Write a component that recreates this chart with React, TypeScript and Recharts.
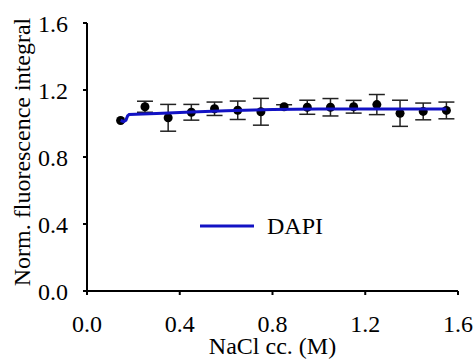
import React from "react";
import {
  ComposedChart,
  Scatter,
  XAxis,
  YAxis,
  ErrorBar,
  Legend,
  Label,
} from "recharts";

// measured points (NaCl concentration, normalised integral, error)
const naclConc = [0.145, 0.25, 0.35, 0.45, 0.55, 0.65, 0.75, 0.85, 0.95, 1.05, 1.15, 1.25, 1.35, 1.45, 1.55];
const fluorValues = [1.018, 1.1, 1.034, 1.067, 1.088, 1.079, 1.07, 1.1, 1.097, 1.097, 1.1, 1.113, 1.061, 1.072, 1.078];
const fluorErrors = [0, 0.033, 0.08, 0.047, 0.04, 0.055, 0.08, 0.012, 0.042, 0.052, 0.038, 0.06, 0.078, 0.05, 0.05];

// fitted DAPI curve
const fitConc = [0.145, 0.158, 0.168, 0.175, 0.182, 0.3, 0.45, 0.6, 0.8, 1.0, 1.2, 1.4, 1.55];
const fitValues = [1.018, 1.012, 1.02, 1.045, 1.054, 1.06, 1.068, 1.076, 1.083, 1.086, 1.087, 1.087, 1.087];

const xTicks = [0, 0.4, 0.8, 1.2, 1.6];
const yTicks = [0, 0.4, 0.8, 1.2, 1.6];

const FONT = "'Liberation Serif', 'Times New Roman', serif";
const BLUE = "#1212c4";

const points = naclConc.map((x, i) => ({ x, y: fluorValues[i], err: fluorErrors[i] }));
const fit = fitConc.map((x, i) => ({ x, y: fitValues[i] }));

const tickStyle = { fontSize: 24, fontFamily: FONT, fill: "#000" };

function LegendBox() {
  return (
    <div style={{ display: "flex", alignItems: "center", fontFamily: FONT, fontSize: 24, color: "#000", lineHeight: "28px" }}>
      <svg width={54} height={6} style={{ marginRight: 13 }}>
        <line x1={0} y1={3} x2={54} y2={3} stroke={BLUE} strokeWidth={3} />
      </svg>
      <span>DAPI</span>
    </div>
  );
}

export default function App() {
  return (
    <div style={{ position: "fixed", left: 0, top: 0, background: "#fff" }}>
      <ComposedChart
        width={475}
        height={362}
        margin={{ top: 23, right: 17, left: 0, bottom: 0 }}
      >
        <XAxis
          type="number"
          dataKey="x"
          xAxisId="main"
          domain={[0, 1.6]}
          ticks={xTicks}
          tickFormatter={(v) => v.toFixed(1)}
          tick={tickStyle}
          tickSize={4}
          tickMargin={20}
          height={71}
          stroke="#000"
          strokeWidth={2}
          allowDataOverflow
        >
          <Label
            content={({ viewBox }: any) => (
              <text
                x={viewBox.x + viewBox.width / 2}
                y={viewBox.y + 63}
                textAnchor="middle"
                style={{ fontSize: 24, fontFamily: FONT }}
                fill="#000"
              >
                NaCl cc. (M)
              </text>
            )}
          />
        </XAxis>
        <XAxis
          type="number"
          dataKey="x"
          xAxisId="top"
          orientation="top"
          domain={[0, 1.6]}
          tick={false}
          tickLine={false}
          height={0}
          stroke="#000"
          strokeWidth={2}
        />
        <YAxis
          type="number"
          dataKey="y"
          yAxisId="main"
          domain={[0, 1.6]}
          ticks={yTicks}
          tickFormatter={(v) => v.toFixed(1)}
          tick={tickStyle}
          tickSize={4}
          tickMargin={15}
          width={87}
          stroke="#000"
          strokeWidth={2}
          allowDataOverflow
        >
          <Label
            content={({ viewBox }: any) => {
              const cx = 22;
              const cy = viewBox.y + viewBox.height / 2 - 5;
              return (
                <text
                  x={cx}
                  y={cy}
                  transform={`rotate(-90, ${cx}, ${cy})`}
                  textAnchor="middle"
                  dominantBaseline="central"
                  style={{ fontSize: 24, fontFamily: FONT }}
                  fill="#000"
                >
                  Norm. fluorescence integral
                </text>
              );
            }}
          />
        </YAxis>
        <YAxis
          type="number"
          dataKey="y"
          yAxisId="right"
          orientation="right"
          domain={[0, 1.6]}
          tick={false}
          tickLine={false}
          width={0}
          stroke="#000"
          strokeWidth={2}
        />
        <Scatter
          data={points}
          xAxisId="main"
          yAxisId="main"
          fill="#000"
          isAnimationActive={false}
          shape={(p: any) => <circle cx={p.cx} cy={p.cy} r={4.5} fill="#000" />}
        >
          <ErrorBar dataKey="err" direction="y" width={8} stroke="#222" strokeWidth={1.5} />
        </Scatter>
        <Scatter
          data={fit}
          xAxisId="main"
          yAxisId="main"
          line={{ stroke: BLUE, strokeWidth: 3 }}
          lineType="joint"
          shape={() => null}
          isAnimationActive={false}
        />
        <Legend
          content={() => <LegendBox />}
          layout="horizontal"
          verticalAlign="middle"
          align="center"
          wrapperStyle={{ left: 200, top: 212, width: "auto" }}
        />
      </ComposedChart>
    </div>
  );
}
